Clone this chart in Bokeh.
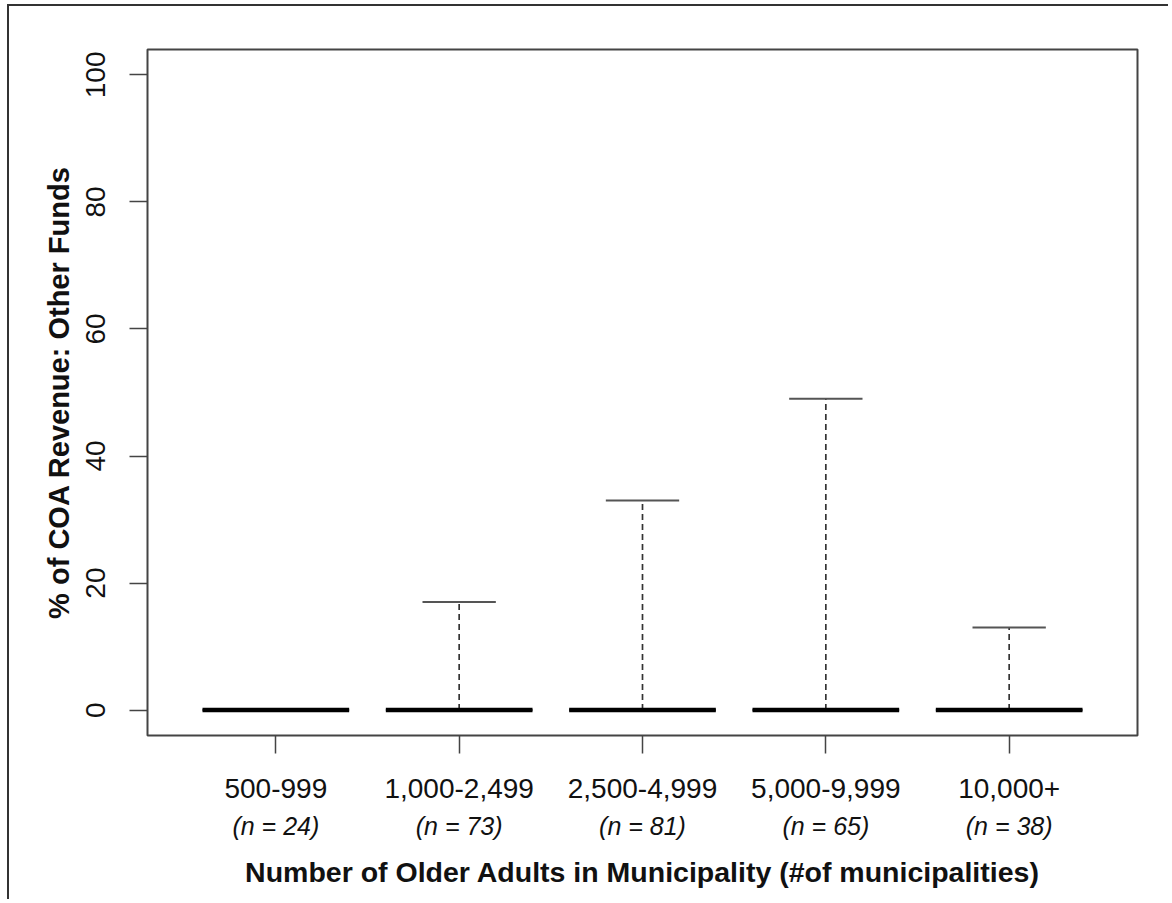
from bokeh.plotting import figure
from bokeh.models import Range1d, FixedTicker, LinearAxis
from bokeh.embed import file_html
from bokeh.resources import INLINE

# ---- data ----
categories = ["500-999", "1,000-2,499", "2,500-4,999", "5,000-9,999", "10,000+"]
n_labels = ["(n = 24)", "(n = 73)", "(n = 81)", "(n = 65)", "(n = 38)"]
q1 = [0, 0, 0, 0, 0]
median = [0, 0, 0, 0, 0]
q3 = [0, 0, 0, 0, 0]
lower = [0, 0, 0, 0, 0]
upper = [0, 17, 33, 49, 13]
y_ticks = [0, 20, 40, 60, 80, 100]

xs = list(range(1, len(categories) + 1))
FONT = "Liberation Sans"
FRAME = "#444444"
TEXT = "#111111"

p = figure(width=1161, height=895, output_backend="svg", toolbar_location=None,
           x_range=Range1d(0.3, 5.7), y_range=Range1d(-4, 104),
           min_border_left=138, min_border_right=33, min_border_top=43,
           min_border_bottom=166)
p.styles = {"border-top": "2px solid #333333", "border-left": "2px solid #333333",
            "margin-left": "7px", "margin-top": "4px"}
p.grid.visible = False
p.background_fill_color = "white"
p.border_fill_color = "white"
p.outline_line_color = FRAME
p.outline_line_width = 2

# second row of category labels as an extra axis below the first
ax2 = LinearAxis(ticker=FixedTicker(ticks=xs))
p.add_layout(ax2, "below")

p.xaxis[0].ticker = FixedTicker(ticks=xs)
p.xaxis[0].major_label_overrides = {x: c for x, c in zip(xs, categories)}
p.yaxis.ticker = FixedTicker(ticks=y_ticks)
for ax in (p.xaxis[0], p.yaxis[0]):
    ax.axis_line_color = None
    ax.major_tick_line_color = FRAME
    ax.major_tick_line_width = 1.5
    ax.major_tick_out = 18
    ax.major_tick_in = 0
    ax.minor_tick_line_color = None
    ax.major_label_text_font = FONT
    ax.major_label_text_font_size = "28px"
    ax.major_label_text_color = TEXT
p.xaxis[0].major_label_standoff = 25
p.yaxis.major_label_orientation = "vertical"
p.yaxis.major_label_standoff = 24

ax2.axis_line_color = None
ax2.major_tick_line_color = None
ax2.major_tick_out = 0
ax2.major_tick_in = 0
ax2.minor_tick_line_color = None
ax2.major_label_overrides = {x: t for x, t in zip(xs, n_labels)}
ax2.major_label_text_font = FONT
ax2.major_label_text_font_size = "25px"
ax2.major_label_text_font_style = "italic"
ax2.major_label_text_color = TEXT
ax2.major_label_standoff = 11

for ax, lab, size, stand in ((ax2, "Number of Older Adults in Municipality (#of municipalities)", "28.5px", 13),
                             (p.yaxis[0], "% of COA Revenue: Other Funds", "29px", 9)):
    ax.axis_label = lab
    ax.axis_label_text_font = FONT
    ax.axis_label_text_font_size = size
    ax.axis_label_text_font_style = "bold"
    ax.axis_label_text_color = TEXT
    ax.axis_label_standoff = stand

# boxes (degenerate: q1 == q3)
p.quad(left=[x - 0.4 for x in xs], right=[x + 0.4 for x in xs], bottom=q1, top=q3,
       fill_color=None, line_color="black", line_width=1.5)
# whiskers
p.segment(x0=xs, y0=q3, x1=xs, y1=upper, line_color="#333333", line_width=1.7,
          line_dash="6 4")
p.segment(x0=xs, y0=q1, x1=xs, y1=lower, line_color="#333333", line_width=1.7,
          line_dash="6 4")
# staples
p.segment(x0=[x - 0.2 for x in xs], y0=upper, x1=[x + 0.2 for x in xs], y1=upper,
          line_color="#555555", line_width=2)
p.segment(x0=[x - 0.2 for x in xs], y0=lower, x1=[x + 0.2 for x in xs], y1=lower,
          line_color="#555555", line_width=2)
# medians
p.segment(x0=[x - 0.4 for x in xs], y0=median, x1=[x + 0.4 for x in xs], y1=median,
          line_color="black", line_width=4.5, line_cap="butt")

open("out.html", "w").write(file_html(p, INLINE))
